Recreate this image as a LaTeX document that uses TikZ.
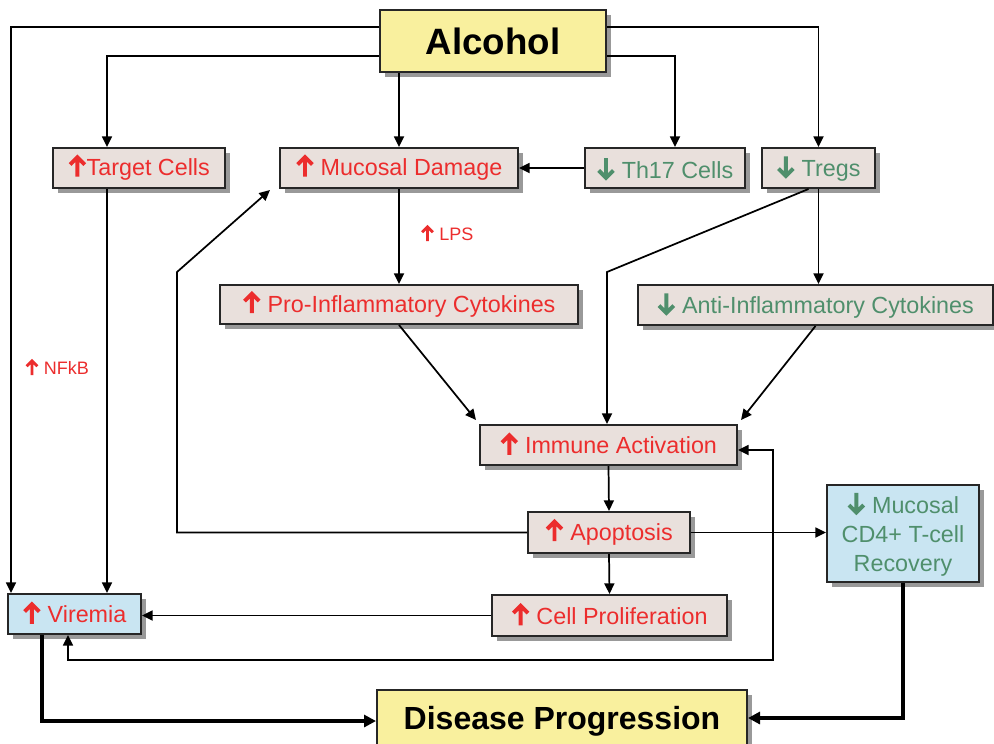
\documentclass[tikz,border=0pt]{standalone}
\usepackage{fontspec}
\setmainfont{Liberation Sans}
\usetikzlibrary{arrows.meta,shadows,calc}
\definecolor{boxfill}{HTML}{E9E0DC}
\definecolor{redt}{HTML}{EC2D2D}
\definecolor{greent}{HTML}{4F8F6C}
\definecolor{bluefill}{HTML}{C9E5F2}
\definecolor{yellowfill}{HTML}{F9F09E}
\newcommand{\UpA}[1][1.22]{\tikz[baseline=0pt,x=#1pt,y=#1pt]{\draw[-,line width=#1*2.4pt,draw=redt,line cap=butt,line join=miter] (0.5,7)--(5,11.5)--(9.5,7) (5,11.5)--(5,-0.5);}}
\newcommand{\DnA}[1][1.22]{\tikz[baseline=0pt,x=#1pt,y=#1pt]{\draw[-,line width=#1*2.4pt,draw=greent,line cap=butt,line join=miter] (0.5,5)--(5,0.5)--(9.5,5) (5,0.5)--(5,12.5);}}
\begin{document}
\begin{tikzpicture}[x=0.75pt,y=-0.75pt,
  wh/.style 2 args={minimum width=#1*0.75pt, minimum height=#2*0.75pt},
  box/.style={draw=black!85, line width=1.5pt, fill=boxfill, inner sep=0pt,
    font=\fontsize{17.5}{21.75}\selectfont,
    drop shadow={shadow xshift=4pt,shadow yshift=-4pt,opacity=0.4,fill=black}},
  bluebox/.style={box, fill=bluefill},
  yelbox/.style={box, fill=yellowfill, font=\bfseries\fontsize{27.5}{33}\selectfont},
  up/.style={text=redt},
  down/.style={text=greent},
  lbl/.style={text=redt, font=\fontsize{13.5}{16}\selectfont, inner sep=1pt},
  arr/.style={line width=1.3pt, -{Triangle[length=8pt,width=7.5pt]}},
  arrb/.style={line width=1.3pt, {Triangle[length=8pt,width=7.5pt]}-{Triangle[length=8pt,width=7.5pt]}},
  arrthick/.style={line width=2.6pt, -{Triangle[length=9pt,width=9pt]}}
]
\useasboundingbox (0,0) rectangle (994,743);
\fill[white] (0,0) rectangle (994,743);

% nodes
\node[yelbox, wh={226}{62}] (alc) at (493,41) {Alcohol};
\node[box, up, wh={172}{40}] (tc) at (139,168) {\UpA Target Cells};
\node[box, up, wh={238}{40}] (md) at (399,168) {\UpA\ Mucosal Damage};
\node[box, down, wh={160}{40}] (th) at (665,168) {\DnA\ Th17 Cells};
\node[box, down, wh={113}{40}] (tr) at (818.5,168) {\DnA\ Tregs};
\node[box, up, wh={358}{39}] (pro) at (399,304.5) {\UpA\ Pro-Inflammatory Cytokines};
\node[box, down, wh={355}{40}] (anti) at (815.5,305) {\DnA\ Anti-Inflammatory Cytokines};
\node[box, up, wh={257}{40}] (ia) at (608.5,445) {\UpA\ Immune Activation};
\node[box, up, wh={162}{41}] (ap) at (609,532.5) {\UpA\ Apoptosis};
\node[box, up, wh={235}{41}] (cp) at (609.5,615.5) {\UpA\ Cell Proliferation};
\node[bluebox, up, wh={133}{40}] (vir) at (74.5,614) {\UpA\ Viremia};
\node[bluebox, down, wh={152}{97}, align=center] (rec) at (903,533.5) {\DnA\ Mucosal\\CD4+ T-cell\\Recovery};
\node[yelbox, wh={370}{62}, font=\bfseries\fontsize{24}{29}\selectfont] (dp) at (562,721) {Disease Progression};

\node[lbl] (nf) at (57,368) {\UpA[0.9]\ NFkB};
\node[lbl] (lps) at (447,234) {\UpA[0.9]\ LPS};

% helper coordinates
\coordinate (tb) at (607,272);
\coordinate (lb) at (177,272);
\coordinate (mdin) at (270,190);
\coordinate (lpa) at (773,660);
\coordinate (tcb) at ($(tc.south west)+(55,0)$);
\coordinate (tct) at ($(tc.north west)+(55,0)$);
\coordinate (vtl) at ($(vir.north west)+(4,0)$);
\coordinate (vbl) at ($(vir.south west)+(35,0)$);
\coordinate (vbm) at ($(vir.south west)+(61,0)$);

% connectors
\draw[arr] ($(alc.north west)+(0,18)$) -| (vtl);
\draw[arr] ($(alc.north west)+(0,47)$) -| (tct);
\draw[arr] (alc.south -| md.north) -- (md.north);
\draw[arr] ($(alc.north east)+(0,47)$) -| ($(th.north)+(10,0)$);
\draw[arr] ($(alc.north east)+(0,18)$) -| (tr.north);
\draw[arr] (th.west) -- (md.east);
\draw[arr] (md.south) -- (pro.north);
\draw[arr] (tr.south) -- (tr.south |- anti.north);
\draw[arr] ($(tr.south)+(-10,0)$) -- (tb) -- (tb |- ia.north);
\draw[arr] (pro.south) -- ($(ia.north west)+(-3,-4)$);
\draw[arr] (anti.south) -- ($(ia.north east)+(3,-4)$);
\draw[arr] (ia.south) -- (ap.north);
\draw[arr] (ap.south) -- (cp.north);
\draw[arr] (ap.west) -| (lb) -- (mdin);
\draw[arr] (ap.east) -- (rec.west |- ap.east);
\draw[arr] (cp.west) -- (vir.east |- cp.west);
\draw[arr] (tcb) -- (tcb |- vir.north);
\draw[arrb] ($(ia.east)+(0,5)$) -| (lpa) -| (vbm);
\draw[arrthick] (vbl) |- (dp.west);
\draw[arrthick] (rec.south) |- ($(dp.east)+(0,-3)$);
\end{tikzpicture}
\end{document}
